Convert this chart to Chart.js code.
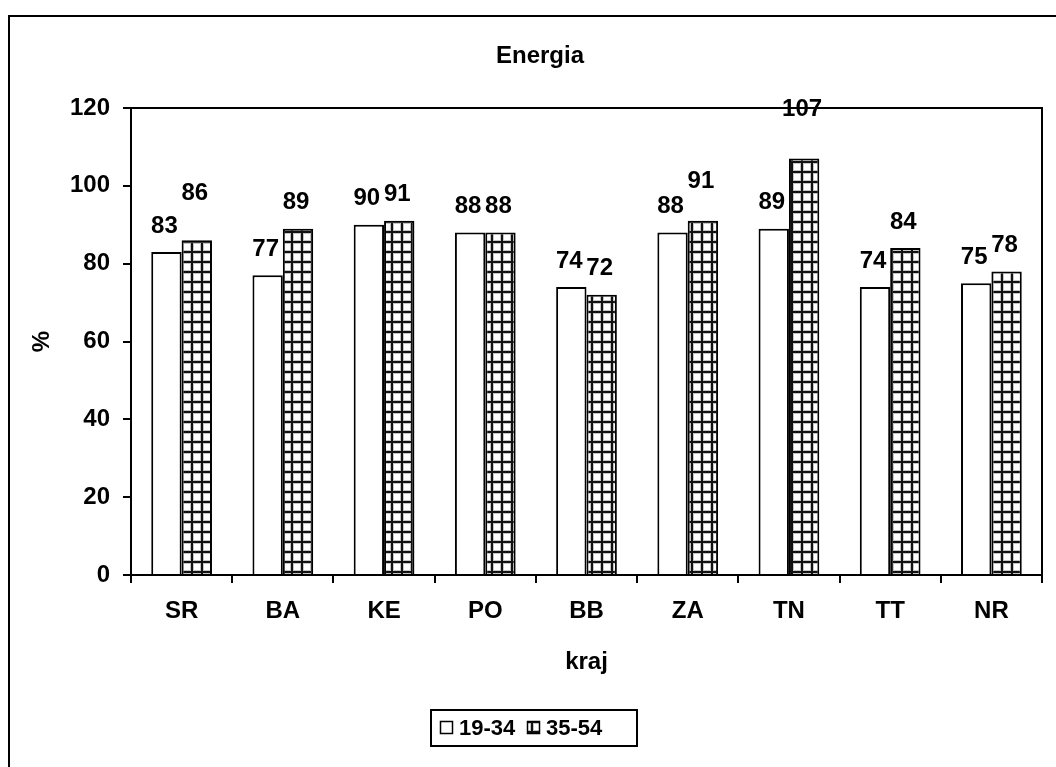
<!DOCTYPE html>
<html>
<head>
<meta charset="utf-8">
<title>Energia</title>
<script src="https://cdn.jsdelivr.net/npm/chart.js@4.4.1/dist/chart.umd.min.js"></script>
<style>
  html, body { margin: 0; padding: 0; background: #fff; overflow: hidden; }
  #wrap { width: 1056px; height: 767px; position: relative; }
</style>
</head>
<body>
<div id="wrap"><canvas id="c" width="1056" height="767"></canvas></div>
<script>
// Regions (kraje) and the two age groups
const categories = ['SR', 'BA', 'KE', 'PO', 'BB', 'ZA', 'TN', 'TT', 'NR'];
const seriesNames = ['19-34', '35-54'];
const values1934 = [83, 77, 90, 88, 74, 88, 89, 74, 75];
const values3554 = [86, 89, 91, 88, 72, 91, 107, 84, 78];
const yTicks = [0, 20, 40, 60, 80, 100, 120];

const FONT = '"Liberation Sans", Arial, Helvetica, sans-serif';

// Square-grid fill for the second series
function gridPattern() {
  const p = document.createElement('canvas');
  p.width = 10; p.height = 10;
  const g = p.getContext('2d');
  g.fillStyle = '#ffffff';
  g.fillRect(0, 0, 10, 10);
  g.fillStyle = '#c4c4c4';
  g.fillRect(0, 0, 4, 10);
  g.fillRect(0, 0, 10, 4);
  g.fillStyle = '#111111';
  g.fillRect(1, 0, 2, 10);
  g.fillRect(0, 1, 10, 2);
  return g.createPattern(p, 'repeat');
}
const hatch = gridPattern();

// Outer frame, plot frame, title, value labels and boxed legend
const decorations = {
  id: 'decorations',
  beforeDraw(chart) {
    const ctx = chart.ctx;
    ctx.save();
    ctx.fillStyle = '#fff';
    ctx.fillRect(0, 0, chart.width, chart.height);
    ctx.lineWidth = 2;
    ctx.strokeStyle = '#000';
    ctx.strokeRect(9, 16, 2000, 2000);
    ctx.restore();
  },
  afterDraw(chart, args, opts) {
    const ctx = chart.ctx;
    const a = chart.chartArea;
    ctx.save();
    // plot frame (top and right)
    ctx.strokeStyle = '#000';
    ctx.lineWidth = 2;
    ctx.beginPath();
    ctx.moveTo(a.left, a.top);
    ctx.lineTo(a.right, a.top);
    ctx.lineTo(a.right, a.bottom);
    ctx.stroke();

    // title
    ctx.fillStyle = '#000';
    ctx.font = 'bold 24px ' + FONT;
    ctx.textAlign = 'center';
    ctx.textBaseline = 'middle';
    ctx.fillText(opts.title, 540, 56);

    // value labels
    ctx.font = 'bold 24px ' + FONT;
    chart.data.datasets.forEach((ds, di) => {
      const meta = chart.getDatasetMeta(di);
      const extra = opts.extraLift[di];
      meta.data.forEach((bar, i) => {
        const y = bar.y - 26 - (extra[i] || 0);
        ctx.fillText(String(ds.data[i]), bar.x - 2, y);
      });
    });

    // legend box
    const lx = 430, ly = 709, lw = 206, lh = 36;
    ctx.lineWidth = 2;
    ctx.strokeStyle = '#000';
    ctx.strokeRect(lx + 1, ly + 1, lw, lh);
    ctx.font = 'bold 22px ' + FONT;
    ctx.textAlign = 'left';
    const cy = ly + 1 + lh / 2;
    const itemX = [440, 527];
    chart.data.datasets.forEach((ds, di) => {
      const x = itemX[di];
      ctx.fillStyle = ds.backgroundColor;
      ctx.fillRect(x, cy - 7, 13, 13);
      ctx.lineWidth = 1.5;
      ctx.strokeStyle = '#000';
      ctx.strokeRect(x + 0.5, cy - 6.5, 12, 12);
      ctx.fillStyle = '#000';
      ctx.fillText(ds.label, x + 19, cy + 1);
    });
    ctx.restore();
  }
};

new Chart(document.getElementById('c'), {
  type: 'bar',
  data: {
    labels: categories,
    datasets: [
      {
        label: seriesNames[0],
        data: values1934,
        backgroundColor: '#ffffff',
        borderColor: '#000000',
        borderWidth: 2,
        borderSkipped: 'bottom'
      },
      {
        label: seriesNames[1],
        data: values3554,
        backgroundColor: hatch,
        borderColor: '#000000',
        borderWidth: 2,
        borderSkipped: 'bottom'
      }
    ]
  },
  options: {
    responsive: false,
    animation: false,
    devicePixelRatio: 1,
    categoryPercentage: 0.6,
    barPercentage: 1.0,
    layout: { padding: { left: 0, right: 14, top: 108, bottom: 82 } },
    plugins: {
      legend: { display: false },
      title: { display: false },
      tooltip: { enabled: false },
      decorations: {
        title: 'Energia',
        extraLift: [
          [0, 0, 0, 0, 0, 0, 0, 0, 0],
          [21, 0, 0, 0, 0, 13, 23, 0, 0]
        ]
      }
    },
    scales: {
      x: {
        afterFit(scale) { scale.height = 110; },
        grid: {
          display: true,
          offset: true,
          drawOnChartArea: false,
          drawTicks: true,
          tickLength: 8,
          color: '#000',
          lineWidth: 2
        },
        border: { display: true, color: '#000', width: 2 },
        ticks: {
          color: '#000',
          font: { family: FONT, size: 24, weight: 'bold' },
          padding: 14,
          maxRotation: 0
        },
        title: {
          display: true,
          text: 'kraj',
          color: '#000',
          font: { family: FONT, size: 24, weight: 'bold' },
          padding: { top: 0, bottom: 8 }
        }
      },
      y: {
        min: 0,
        max: 120,
        afterFit(scale) { scale.width = 131; },
        afterBuildTicks(scale) { scale.ticks = yTicks.map(v => ({ value: v })); },
        grid: {
          display: true,
          drawOnChartArea: false,
          drawTicks: true,
          tickLength: 8,
          color: '#000',
          lineWidth: 2
        },
        border: { display: true, color: '#000', width: 2 },
        ticks: {
          color: '#000',
          font: { family: FONT, size: 24, weight: 'bold' },
          padding: 13
        },
        title: {
          display: true,
          text: '%',
          color: '#000',
          font: { family: FONT, size: 24, weight: 'bold' },
          padding: { top: 28, bottom: 0 }
        }
      }
    }
  },
  plugins: [decorations]
});
</script>
</body>
</html>
